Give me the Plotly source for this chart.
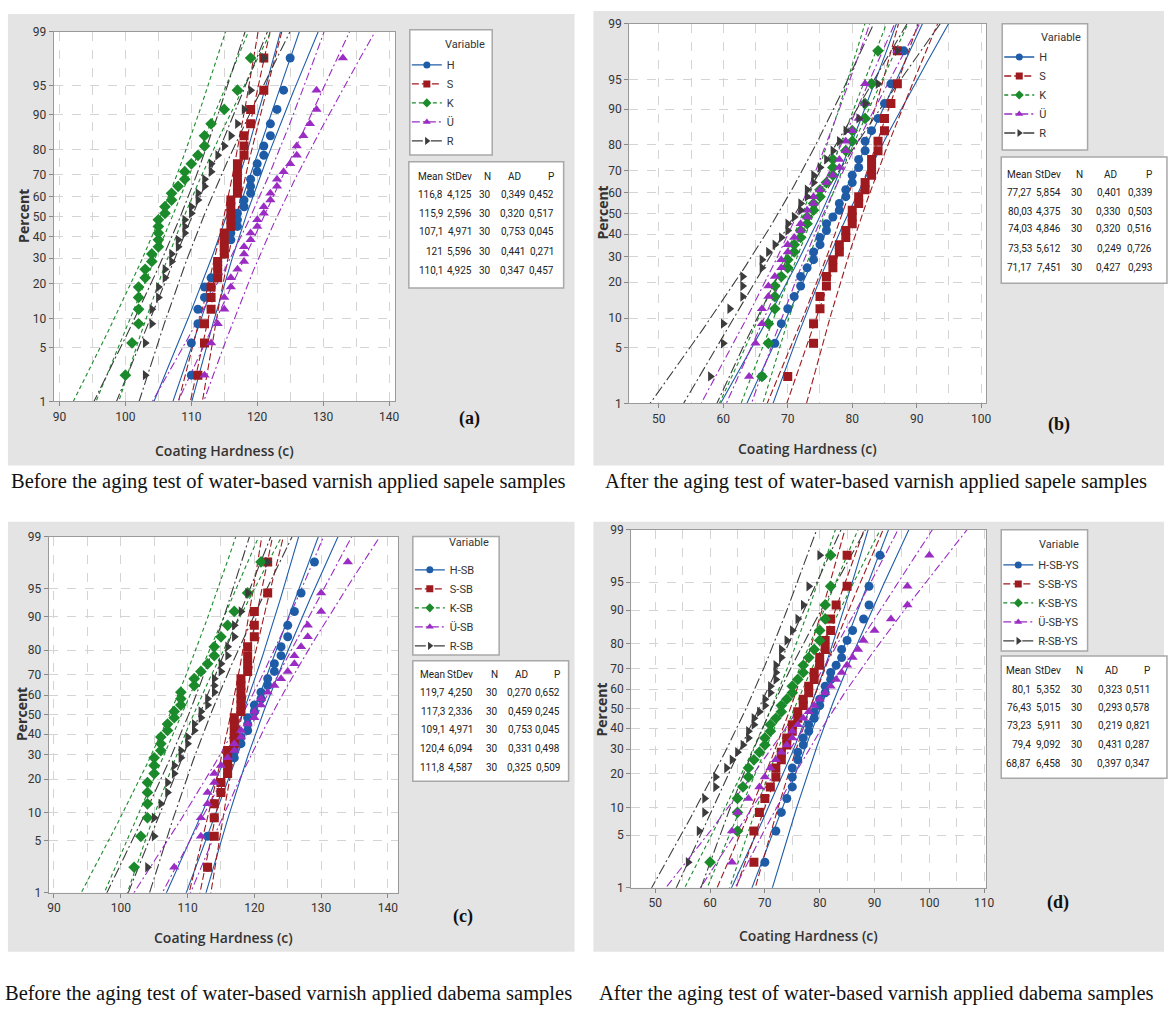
import numpy as np
import plotly.graph_objects as go
from statistics import NormalDist

W, H = 1169, 1016
nd = NormalDist()

# ---------------- data ----------------
names_a = ["H", "S", "K", "Ü", "R"]
names_b = ["H", "S", "K", "Ü", "R"]
names_c = ["H-SB", "S-SB", "K-SB", "Ü-SB", "R-SB"]
names_d = ["H-SB-YS", "S-SB-YS", "K-SB-YS", "Ü-SB-YS", "R-SB-YS"]

a_H = [110,110,111,111,112,112,113,114,114,115,115,116,116,117,117,117,118,118,119,119,119,120,120,121,121,122,122,123,124,125]
a_S = [111,112,112,113,113,113,114,114,114,115,115,115,115,116,116,116,116,116,117,117,117,117,117,118,118,118,119,119,121,121]
a_K = [100,101,102,102,102,102,103,103,104,104,105,105,105,105,105,106,106,107,107,108,109,109,110,111,112,112,113,115,117,119]
a_U = [112,113,114,115,115,116,116,117,118,118,118,119,119,120,120,121,121,122,122,123,123,124,125,126,126,127,128,129,129,133]
a_R = [103,103,104,104,105,105,106,106,107,107,108,108,109,109,109,110,110,111,111,112,112,113,113,114,115,116,117,118,119,121]

b_H = [66,68,69,70,71,72,72,73,74,74,75,75,76,76,77,78,78,79,79,80,80,81,81,82,82,83,84,85,86,88]
b_S = [70,74,74,75,75,76,76,77,77,78,78,79,79,80,80,80,81,81,82,82,83,83,83,84,84,85,85,86,87,87]
b_K = [66,67,67,68,68,68,69,70,70,71,71,72,72,73,73,74,74,75,75,76,77,77,77,79,80,80,82,82,83,84]
b_U = [64,65,66,66,67,67,68,69,69,70,70,71,72,72,73,73,74,74,75,76,77,78,78,79,79,80,81,82,82,87]
b_R = [58,60,60,61,63,63,63,66,66,67,68,69,70,70,71,72,72,73,73,74,74,75,76,77,78,79,81,82,84,87]

c_H = [113,113,114,114,115,115,116,116,117,117,118,118,119,119,119,120,120,121,121,122,122,123,123,124,124,125,125,126,127,129]
c_S = [113,114,114,114,115,115,116,116,116,116,117,117,117,117,117,118,118,118,118,118,118,119,119,119,119,120,120,120,122,122]
c_K = [102,103,104,104,104,104,105,105,105,106,106,106,107,107,108,108,109,109,109,111,111,112,113,114,114,115,116,117,119,121]
c_U = [108,112,112,113,113,114,114,115,116,117,117,118,118,119,120,120,121,121,122,123,124,125,126,126,127,128,128,130,130,134]
c_R = [104,105,105,106,107,107,108,108,109,109,110,110,111,111,112,112,113,113,114,114,114,115,115,116,116,117,117,118,119,122]

d_H = [70,72,73,74,75,75,75,76,76,77,77,78,78,79,79,80,80,81,81,82,82,83,84,84,85,86,88,89,89,91]
d_S = [68,68,69,70,71,72,72,73,73,74,74,75,75,76,76,77,77,78,78,79,79,80,80,81,81,82,82,83,85,85]
d_K = [60,65,65,65,66,67,67,68,69,70,70,71,71,72,73,73,74,75,75,76,77,77,78,79,80,80,81,81,82,82]
d_U = [64,64,65,67,69,70,71,72,73,74,75,75,76,77,78,79,80,81,82,83,84,85,86,87,88,90,93,96,96,100]
d_R = [56,58,59,59,61,61,63,64,65,66,67,67,68,68,69,70,70,71,71,72,72,72,73,73,74,75,76,77,78,80]

# summary tables (Mean, StDev, N, AD, P)
a_mean = [116.8, 115.9, 107.1, 121, 110.1]
a_sd = [4.125, 2.596, 4.971, 5.596, 4.925]
a_n = [30, 30, 30, 30, 30]
a_ad = [0.349, 0.320, 0.753, 0.441, 0.347]
a_p = [0.452, 0.517, 0.045, 0.271, 0.457]

b_mean = [77.27, 80.03, 74.03, 73.53, 71.17]
b_sd = [5.854, 4.375, 4.846, 5.612, 7.451]
b_n = [30, 30, 30, 30, 30]
b_ad = [0.401, 0.330, 0.320, 0.249, 0.427]
b_p = [0.339, 0.503, 0.516, 0.726, 0.293]

c_mean = [119.7, 117.3, 109.1, 120.4, 111.8]
c_sd = [4.250, 2.336, 4.971, 6.094, 4.587]
c_n = [30, 30, 30, 30, 30]
c_ad = [0.270, 0.459, 0.753, 0.331, 0.325]
c_p = [0.652, 0.245, 0.045, 0.498, 0.509]

d_mean = [80.1, 76.43, 73.23, 79.4, 68.87]
d_sd = [5.352, 5.015, 5.911, 9.092, 6.458]
d_n = [30, 30, 30, 30, 30]
d_ad = [0.323, 0.293, 0.219, 0.431, 0.397]
d_p = [0.511, 0.578, 0.821, 0.287, 0.347]

percent_ticks = [1, 5, 10, 20, 30, 40, 50, 60, 70, 80, 90, 95, 99]
x_title = "Coating Hardness (c)"
y_title = "Percent"
panel_labels = ["(a)", "(b)", "(c)", "(d)"]
captions = [
    "Before the aging test of water-based varnish applied sapele samples",
    "After the aging test of water-based varnish applied sapele samples",
    "Before the aging test of water-based varnish applied dabema samples",
    "After the aging test of water-based varnish applied dabema samples",
]

# ---------------- styles ----------------
colors = ["#1f5ca8", "#9e1a1f", "#1b8a2b", "#9a2cc4", "#3c3c3c"]
symbols = ["circle", "square", "diamond", "triangle-up", "triangle-right"]
dashes = ["solid", "7px,3px", "4px,3px", "8px,3px,2px,3px", "11px,3px,2px,3px"]
FONT = "Open Sans, Liberation Sans, sans-serif"
NARROW = "Liberation Sans Narrow, Roboto, Liberation Sans, sans-serif"
SERIF = "Liberation Serif, Times New Roman, serif"
GRAY_BG = "#e4e4e4"


def X(px):
    return px / W


def Y(py):
    return 1 - py / H


panels = [
    dict(names=names_a, data=[a_H, a_S, a_K, a_U, a_R], mean=a_mean, sd=a_sd, n=a_n, ad=a_ad, p=a_p,
         plot=(53, 397, 25, 400), xr=[89.1, 140.9], gray=(7, 578, 7, 465),
         leg_box=(412, 495, 23, 150), leg_pos=(409, 44), var_pos=(468, 38),
         tab_box=(411, 567, 157, 285), tab_cols=[447, 477, 496, 530, 559],
         tab_rows=[172, 190, 209, 228, 248, 267],
         label=(472, 417), xt=(225, 450), yt=(22, 212), cap=(290, 481)),
    dict(names=names_b, data=[b_H, b_S, b_K, b_U, b_R], mean=b_mean, sd=b_sd, n=b_n, ad=b_ad, p=b_p,
         plot=(633, 993, 17, 402), xr=[45.4, 100.8], gray=(597, 1172, 4, 465),
         leg_box=(1009, 1095, 17, 145), leg_pos=(1006, 36), var_pos=(1068, 31),
         tab_box=(1008, 1175, 152, 280), tab_cols=[1041, 1070, 1092, 1131, 1162],
         tab_rows=[170, 188, 207, 225, 245, 264],
         label=(1066, 423), xt=(813, 448), yt=(606, 208), cap=(882, 481)),
    dict(names=names_c, data=[c_H, c_S, c_K, c_U, c_R], mean=c_mean, sd=c_sd, n=c_n, ad=c_ad, p=c_p,
         plot=(48, 400, 537, 898), xr=[89.2, 141.5], gray=(7, 578, 522, 958),
         leg_box=(415, 502, 537, 657), leg_pos=(412, 556), var_pos=(472, 543),
         tab_box=(415, 572, 663, 785), tab_cols=[449, 478, 503, 537, 565],
         tab_rows=[677, 695, 714, 733, 752, 771],
         label=(466, 922), xt=(224, 943), yt=(20, 717), cap=(290, 1000)),
    dict(names=names_d, data=[d_H, d_S, d_K, d_U, d_R], mean=d_mean, sd=d_sd, n=d_n, ad=d_ad, p=d_p,
         plot=(635, 993, 530, 893), xr=[45.6, 110.4], gray=(597, 1172, 522, 958),
         leg_box=(1008, 1095, 530, 653), leg_pos=(1005, 551), var_pos=(1066, 545),
         tab_box=(1008, 1175, 658, 782), tab_cols=[1040, 1070, 1092, 1132, 1160],
         tab_rows=[673, 692, 710, 729, 748, 767],
         label=(1065, 908), xt=(814, 941), yt=(605, 712), cap=(882, 1000)),
]

fig = go.Figure()
shapes = []
annotations = []
layout_axes = {}
zlo = nd.inv_cdf(percent_ticks[0] / 100)
zhi = nd.inv_cdf(percent_ticks[-1] / 100)
zgrid = np.linspace(-2.8, 2.8, 141)


def fmt_mean(v):
    return f"{v:.4g}".replace(".", ",")


def fmt3(v):
    return f"{v:.3f}".replace(".", ",")


# gray panels first
for pan in panels:
    gx0, gx1, gy0, gy1 = pan["gray"]
    shapes.append(dict(type="rect", xref="paper", yref="paper", x0=X(gx0), x1=X(gx1), y0=Y(gy1), y1=Y(gy0),
                       fillcolor=GRAY_BG, line=dict(width=0), layer="below"))

for k, pan in enumerate(panels):
    sfx = "" if k == 0 else str(k + 1)
    xa, ya = "x" + sfx, "y" + sfx
    legname = "legend" if k == 0 else f"legend{k+1}"
    px0, px1, py0, py1 = pan["plot"]

    # white plot area
    shapes.append(dict(type="rect", xref=f"{xa} domain", yref=f"{ya} domain", x0=0, x1=1, y0=0, y1=1,
                       fillcolor="white", line=dict(width=0), layer="below"))

    # fitted lines + 95% CI
    for j in range(5):
        m, s, n = pan["mean"][j], pan["sd"][j], pan["n"][j]
        fit = m + s * zgrid
        se = s * np.sqrt(1.0 / n + zgrid ** 2 / (2.0 * n))
        for curve in (fit - 1.96 * se, fit, fit + 1.96 * se):
            fig.add_trace(go.Scatter(x=curve, y=zgrid, mode="lines", xaxis=xa, yaxis=ya,
                                     line=dict(color=colors[j], width=1.1, dash=dashes[j]),
                                     showlegend=False, hoverinfo="skip"))
    # points
    for j in range(5):
        vals = sorted(pan["data"][j])
        n = len(vals)
        zs = [nd.inv_cdf((i + 1 - 0.3) / (n + 0.4)) for i in range(n)]
        fig.add_trace(go.Scatter(x=vals, y=zs, mode="markers", xaxis=xa, yaxis=ya,
                                 marker=dict(symbol=symbols[j], size=9, color=colors[j], line=dict(width=0)),
                                 showlegend=False))
    # legend entries
    for j in range(5):
        fig.add_trace(go.Scatter(x=[None], y=[None], mode="lines+markers", xaxis=xa, yaxis=ya,
                                 name=pan["names"][j], legend=legname,
                                 line=dict(color=colors[j], width=1.3, dash=dashes[j]),
                                 marker=dict(symbol=symbols[j], size=7, color=colors[j])))

    lx, ly = pan["leg_pos"]
    layout_axes[legname] = dict(x=X(lx), y=Y(ly), xanchor="left", yanchor="top",
                                bgcolor="rgba(0,0,0,0)", borderwidth=0, itemwidth=30,
                                font=dict(family=NARROW, size=11, color="#333333"),
                                itemsizing="trace", tracegroupgap=0)

    layout_axes["xaxis" + sfx] = dict(
        domain=[X(px0), X(px1)], range=pan["xr"], anchor=ya,
        tickmode="linear", tick0=0, dtick=10, ticks="outside", ticklen=4, tickcolor="#888888",
        showline=True, mirror=True, linecolor="#9a9a9a", linewidth=1,
        showgrid=True, gridcolor="#d4d4d4", griddash="dash", gridwidth=1, zeroline=False,
        minor=dict(tickmode="linear", tick0=0, dtick=5, showgrid=True, gridcolor="#d4d4d4",
                   griddash="dash", ticks=""),
        tickfont=dict(family=NARROW, size=12, color="#333333"))
    layout_axes["yaxis" + sfx] = dict(
        domain=[Y(py1), Y(py0)], range=[zlo, zhi], anchor=xa,
        tickmode="array", tickvals=[nd.inv_cdf(p / 100) for p in percent_ticks],
        ticktext=[str(p) for p in percent_ticks], ticks="outside", ticklen=4, tickcolor="#888888",
        showline=True, mirror=True, linecolor="#9a9a9a", linewidth=1,
        showgrid=True, gridcolor="#d4d4d4", griddash="dash", gridwidth=1, zeroline=False,
        tickfont=dict(family=NARROW, size=12, color="#333333"))

    # legend box + "Variable"
    bx0, bx1, by0, by1 = pan["leg_box"]
    shapes.append(dict(type="rect", xref="paper", yref="paper", x0=X(bx0), x1=X(bx1), y0=Y(by1), y1=Y(by0),
                       fillcolor="white", line=dict(color="#a8a8a8", width=1.5), layer="below"))
    vx, vy = pan["var_pos"]
    annotations.append(dict(text="Variable", x=X(vx), y=Y(vy), xref="paper", yref="paper", showarrow=False,
                            xanchor="center", yanchor="middle",
                            font=dict(family=NARROW, size=11, color="#333333")))

    # stats table
    tx0, tx1, ty0, ty1 = pan["tab_box"]
    shapes.append(dict(type="rect", xref="paper", yref="paper", x0=X(tx0), x1=X(tx1), y0=Y(ty1), y1=Y(ty0),
                       fillcolor="white", line=dict(color="#a8a8a8", width=1.5), layer="below"))
    headers = ["Mean", "StDev", "N", "AD", "P"]
    cols = [[fmt_mean(v) for v in pan["mean"]], [fmt3(v) for v in pan["sd"]], [str(v) for v in pan["n"]],
            [fmt3(v) for v in pan["ad"]], [fmt3(v) for v in pan["p"]]]
    for c in range(5):
        cx = pan["tab_cols"][c]
        hx = cx - 4 if headers[c] == "AD" else cx
        annotations.append(dict(text=headers[c], x=X(hx), y=Y(pan["tab_rows"][0]), xref="paper", yref="paper",
                                showarrow=False, xanchor="right", yanchor="middle",
                                font=dict(family=NARROW, size=10, color="#222222")))
        for r in range(5):
            annotations.append(dict(text=cols[c][r], x=X(cx), y=Y(pan["tab_rows"][r + 1]), xref="paper",
                                    yref="paper", showarrow=False, xanchor="right", yanchor="middle",
                                    font=dict(family=NARROW, size=10, color="#222222")))

    # axis titles, label, caption
    xtx, xty = pan["xt"]
    annotations.append(dict(text=x_title, x=X(xtx), y=Y(xty), xref="paper", yref="paper", showarrow=False,
                            xanchor="center", yanchor="middle",
                            font=dict(family=FONT, size=14, color="#333333", weight=600)))
    ytx, yty = pan["yt"]
    annotations.append(dict(text=y_title, x=X(ytx), y=Y(yty), xref="paper", yref="paper", showarrow=False,
                            xanchor="center", yanchor="middle", textangle=-90,
                            font=dict(family=FONT, size=14, color="#333333", weight=700)))
    lbx, lby = pan["label"]
    annotations.append(dict(text="<b>" + panel_labels[k] + "</b>", x=X(lbx), y=Y(lby), xref="paper",
                            yref="paper", showarrow=False, xanchor="center", yanchor="middle",
                            font=dict(family=SERIF, size=18, color="#111111")))
    cpx, cpy = pan["cap"]
    annotations.append(dict(text=captions[k], x=X(cpx), y=Y(cpy), xref="paper", yref="paper", showarrow=False,
                            xanchor="center", yanchor="middle",
                            font=dict(family=SERIF, size=20.5, color="#111111")))

fig.update_layout(
    width=W, height=H, margin=dict(l=0, r=0, t=0, b=0),
    paper_bgcolor="white", plot_bgcolor="white",
    shapes=shapes, annotations=annotations, showlegend=True,
    **layout_axes,
)

fig.write_html("out.html", include_plotlyjs=True, config={"displayModeBar": False},
               post_script="document.body.style.margin='0';document.body.style.overflow='hidden';")
